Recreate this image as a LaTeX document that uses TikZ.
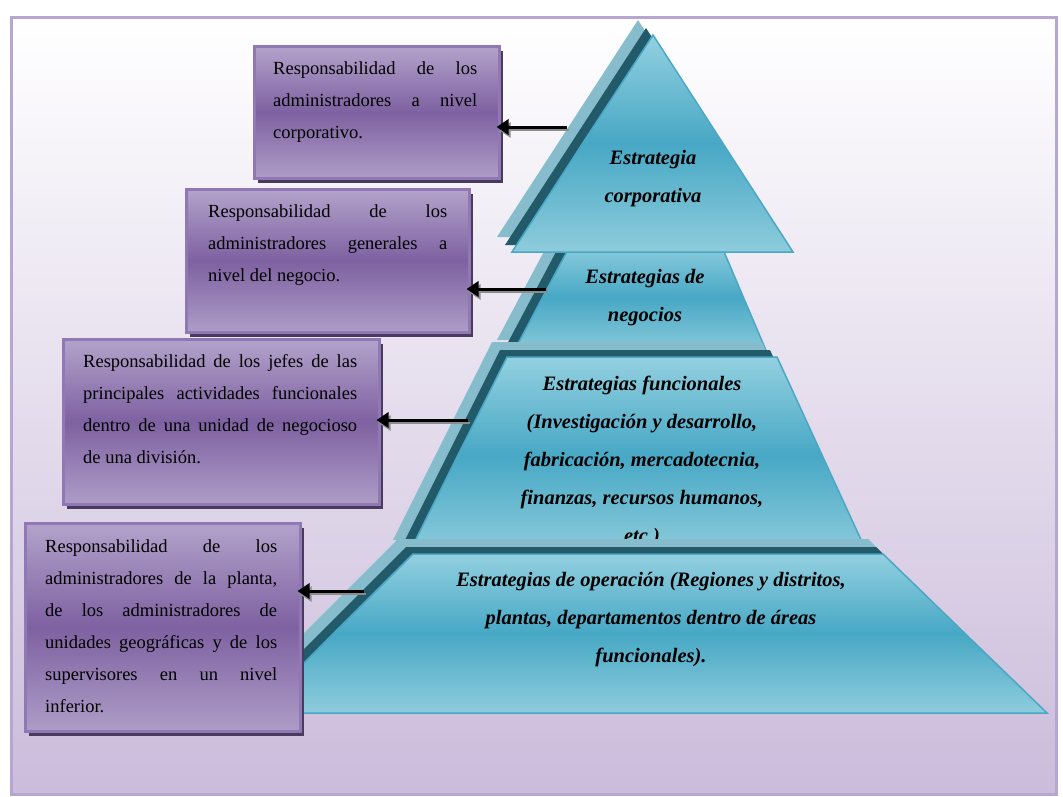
\documentclass[tikz,border=0pt]{standalone}
\usepackage{fontspec}
\setmainfont{Liberation Serif}
\usetikzlibrary{arrows.meta,shadows}
\definecolor{frameC}{HTML}{B7A6D1}
\definecolor{bgBot}{HTML}{CBBCDB}
\definecolor{boxTop}{HTML}{B3A3CB}
\definecolor{boxMid}{HTML}{7E61A1}
\definecolor{boxBot}{HTML}{AE9DC7}
\definecolor{boxLine}{HTML}{8F78B4}
\definecolor{boxShadow}{HTML}{4A3A5F}
\definecolor{pyrTop}{HTML}{93D0E0}
\definecolor{pyrMid}{HTML}{47A8C5}
\definecolor{pyrBot}{HTML}{8ECCDC}
\definecolor{pyrLine}{HTML}{4AA7C6}
\definecolor{shLight}{HTML}{86BCCB}
\definecolor{shDark}{HTML}{235A6A}
\newcommand\scrfont{\fontsize{20.5}{38}\selectfont\bfseries\itshape}
\newcommand\lyr[1]{%
  \fill[shl,shift={(-15,-15)}] #1;
  \fill[shd,shift={(-7,-7)}] #1;
  \path[lvl] #1;}
\begin{document}
\begin{tikzpicture}[x=1pt,y=-1pt,
  pbox/.style={draw=boxLine, line width=2.5pt, top color=boxTop, bottom color=boxBot, middle color=boxMid,
    inner sep=0pt, anchor=north west,
    drop shadow={shadow xshift=4pt, shadow yshift=-5pt, fill=boxShadow, opacity=1}},
  btext/.style={anchor=base west, inner sep=0pt, font=\fontsize{18.5}{32}\selectfont},
  lvl/.style={draw=pyrLine, line width=1.5pt, top color=pyrTop, bottom color=pyrBot, middle color=pyrMid},
  shl/.style={fill=shLight},
  shd/.style={fill=shDark},
  ptext/.style={align=center, font=\scrfont, inner sep=0pt},
  arr/.style={line width=3pt, shorten >=-4pt, -{Triangle[length=12pt,width=15pt]}},
  arrsh/.style={line width=2pt, draw=black!45, shorten >=-4pt, -{Triangle[length=12pt,width=15pt]},
    transform canvas={xshift=2pt,yshift=-3pt}}
]
\useasboundingbox (0,0) rectangle (1063,796);
\fill[white] (0,0) rectangle (1063,796);
\path[draw=frameC, line width=3pt, top color=white, bottom color=bgBot] (11,17) rectangle (1056,794);

% pyramid
\lyr{(573,240) -- (719,240) -- (768,355) -- (512,355) -- cycle}
\node[ptext] (p2) at (645,298) {Estrategias de\\negocios};
\lyr{(653,35) -- (793,252) -- (512,252) -- cycle}
\node[ptext] (p1) at (653,179) {Estrategia\\corporativa};
\lyr{(507,357) -- (777,357) -- (868,555) -- (408,555) -- cycle}
\node[ptext] (p3) at (642,461) {Estrategias funcionales\\(Investigaci\'on y desarrollo,\\
  fabricaci\'on, mercadotecnia,\\finanzas, recursos humanos,\\etc.)};
\lyr{(413,554) -- (883,554) -- (1047,713) -- (254,713) -- cycle}
\node[ptext] (p4) at (651,620) {Estrategias de operaci\'on (Regiones y distritos,\\
  plantas, departamentos dentro de \'areas\\funcionales).};

% boxes
\node[pbox, minimum width=245pt, minimum height=132pt] (b1) at (253,45) {};
\node[btext] (t1) at (273,74) {\parbox[t]{204pt}{\makebox[\linewidth][s]{Responsabilidad de los}\\
  \makebox[\linewidth][s]{administradores a nivel}\\ corporativo.}};
\node[pbox, minimum width=283pt, minimum height=143pt] (b2) at (185,188) {};
\node[btext] (t2) at (208,217) {\parbox[t]{239pt}{\makebox[\linewidth][s]{Responsabilidad de los}\\
  \makebox[\linewidth][s]{administradores generales a}\\ nivel del negocio.}};
\node[pbox, minimum width=316pt, minimum height=165pt] (b3) at (62,338) {};
\node[btext] (t3) at (83,367) {\parbox[t]{274pt}{\makebox[\linewidth][s]{Responsabilidad de los jefes de las}\\
  \makebox[\linewidth][s]{principales actividades funcionales}\\
  \makebox[\linewidth][s]{dentro de una unidad de negocioso}\\ de una divisi\'on.}};
\node[pbox, minimum width=275pt, minimum height=208pt] (b4) at (24,522) {};
\node[btext] (t4) at (45,552) {\parbox[t]{232pt}{\makebox[\linewidth][s]{Responsabilidad de los}\\
  \makebox[\linewidth][s]{administradores de la planta,}\\
  \makebox[\linewidth][s]{de los administradores de}\\
  \makebox[\linewidth][s]{unidades geogr\'aficas y de los}\\
  \makebox[\linewidth][s]{supervisores en un nivel}\\ inferior.}};

% arrows
\coordinate (a1) at (567,127);
\coordinate (a2) at (546,289);
\coordinate (a3) at (468,420);
\coordinate (a4) at (364,591);
\foreach \a/\b in {a1/b1,a2/b2,a3/b3,a4/b4}{
  \draw[arrsh] (\a) -- (\a -| \b.east);
  \draw[arr] (\a) -- (\a -| \b.east);
}
\end{tikzpicture}
\end{document}
